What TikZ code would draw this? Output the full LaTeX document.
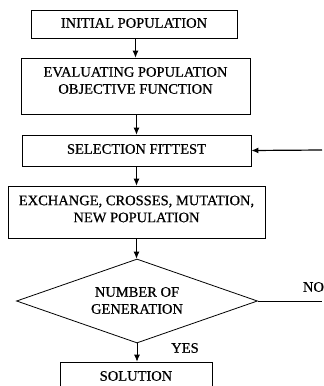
\documentclass[tikz,border=0pt]{standalone}
\usepackage{fontspec}
\setmainfont{Liberation Serif}[FakeBold=0.6]
\usetikzlibrary{arrows.meta,shapes.geometric}
\begin{document}
\begin{tikzpicture}[x=1pt,y=-1pt,>={Latex[length=7pt,width=6pt]},
  box/.style={draw,line width=.8pt,inner sep=0pt},
  txt/.style={align=center,inner sep=0pt,font=\fontsize{14.5}{17}\selectfont}]
\useasboundingbox (0,0) rectangle (324,386);
\clip (0,0) rectangle (324,386);
% boxes
\node[box,minimum width=206,minimum height=28] (init) at (134,24) {};
\node[txt] (initT) at (134,23) {INITIAL POPULATION};
\node[box,minimum width=229,minimum height=56] (eval) at (135.5,86) {};
\node[txt] (evalT) at (135.5,80.5) {EVALUATING POPULATION\\OBJECTIVE FUNCTION};
\node[box,minimum width=229,minimum height=31] (sel) at (136.5,150.5) {};
\node[txt] (selT) at (136.5,149) {SELECTION FITTEST};
\node[box,minimum width=257,minimum height=52] (exch) at (136.5,212) {};
\node[txt] (exchT) at (136.5,209) {EXCHANGE, CROSSES, MUTATION,\\NEW POPULATION};
\node[box,diamond,minimum width=241,minimum height=84] (gen) at (137,301) {};
\node[txt] (genT) at (137,300.5) {NUMBER OF\\GENERATION};
\node[box,minimum width=152,minimum height=30] (sol) at (136,377) {};
\node[txt] (solT) at (136,376) {SOLUTION};
% labels
\node[txt] (no) at (313.5,287) {NO};
\node[txt] (yes) at (185,348) {YES};
\coordinate (back) at (322,150);
\coordinate (noend) at (322,301);
% arrows
\draw[->,line width=.8pt] (eval.north |- init.south) -- (eval.north);
\draw[->,line width=.8pt] (sel.north |- eval.south) -- (sel.north);
\draw[->,line width=.8pt] (sel.south) -- (exch.north);
\draw[->,line width=.8pt] (exch.south) -- (exch.south |- gen.north);
\draw[->,line width=.8pt] (gen.south) -- (gen.south |- sol.north);
\draw[->,line width=1.2pt] (back) -- (sel.east);
\draw[line width=1pt] (gen.east) -- (noend);
\end{tikzpicture}
\end{document}
